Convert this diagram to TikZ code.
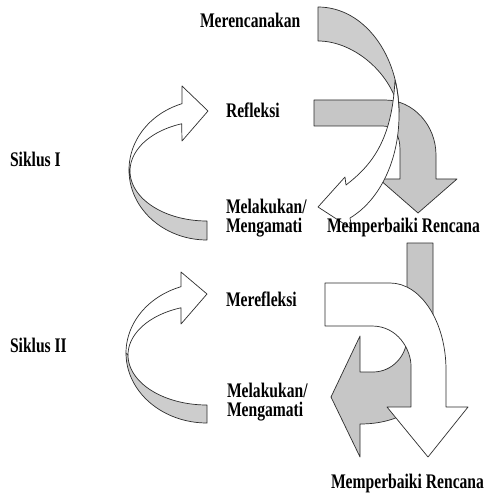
\documentclass[tikz,border=0pt]{standalone}
\usepackage{fontspec}
\usepackage{graphicx}
\setmainfont{Liberation Serif}
\definecolor{gfill}{RGB}{205,205,205}
\definecolor{gfillb}{RGB}{198,198,198}
\definecolor{edge}{RGB}{45,45,45}
\newcommand{\lbl}[1]{\scalebox{1}[1.33]{#1}}
\tikzset{
  shp/.style={draw=edge, line width=0.7pt, line join=round},
  grayshp/.style={shp, fill=gfill},
  grayshpb/.style={shp, fill=gfillb},
  whiteshp/.style={shp, fill=white},
  txt/.style={anchor=base west, inner sep=0pt, outer sep=0pt, text=black,
    font=\bfseries\fontsize{15.6}{18}\selectfont},
}
\begin{document}
\begin{tikzpicture}[x=1pt,y=-1pt]
\useasboundingbox (0,0) rectangle (483,494);
\fill[white] (0,0) rectangle (483,494);

% ---------- Siklus I : left curved arrow ----------
\path[grayshp] (129,170) -- plot[domain=0:90,samples=40,variable=\t] ({207+78*cos(180-\t)},{170+70*sin(180-\t)})
  -- (207,221) -- plot[domain=90:180,samples=40,variable=\t] ({207+77*cos(\t)},{171+50*sin(\t)}) -- cycle;
\path[whiteshp] plot[domain=180:251.3,samples=40,variable=\t] ({207+78*cos(\t)},{170+70*sin(\t)})
  -- (182,86) -- (208,111) -- (182,141)
  -- plot[domain=0:70.8,samples=40,variable=\t] ({207+77*cos(250.8-\t)},{171+50*sin(250.8-\t)}) -- cycle;

% ---------- Siklus II : left curved arrow ----------
\path[grayshp] (126,353) -- plot[domain=0:90,samples=40,variable=\t] ({207+81*cos(180-\t)},{353+70*sin(180-\t)})
  -- (207,405) -- plot[domain=90:180,samples=40,variable=\t] ({207+79*cos(\t)},{355+50*sin(\t)}) -- cycle;
\path[whiteshp] plot[domain=180:251.3,samples=40,variable=\t] ({207+81*cos(\t)},{353+70*sin(\t)})
  -- (181,272) -- (207,294) -- (181,324)
  -- plot[domain=0:70.8,samples=40,variable=\t] ({207+79*cos(250.8-\t)},{355+50*sin(250.8-\t)}) -- cycle;

% ---------- top right: bent gray arrow (Refleksi -> Memperbaiki Rencana) ----------
\path[grayshpb] (314,100) -- (385,100) .. controls (413,100) and (436,125) .. (436,155)
  -- (436,179) -- (457,179) -- (418,213) -- (379,179) -- (400,179) -- (400,150)
  .. controls (400,136) and (395,126) .. (383,126) -- (314,126) -- cycle;

% ---------- top right: curved ribbon arrow (Merencanakan -> Melakukan) ----------
\path[grayshp] (318,7) .. controls (364,7) and (399,55) .. (399,112)
  .. controls (393,75) and (355,41) .. (318,41) -- cycle;
\path[whiteshp] (395,80) .. controls (398,92) and (399,104) .. (399,115)
  .. controls (399,160) and (380,200) .. (350,218) -- (352,229) -- (318,207) -- (345,177) -- (346,185)
  .. controls (372,165) and (392,140) .. (395,80) -- cycle;

% ---------- second cycle: gray arrow from Memperbaiki Rencana ----------
\path[grayshpb] (407,243) -- (433,243) -- (433,370) .. controls (430,405) and (400,424) .. (360,424)
  -- (360,457) -- (331,397) -- (360,336) -- (360,372) -- (373,372)
  .. controls (392,372) and (407,356) .. (407,337) -- cycle;

% ---------- second cycle: white bent arrow ----------
\path[whiteshp] (325,283) -- (390,283) .. controls (421,283) and (446,322) .. (446,370)
  -- (446,407) -- (468,407) -- (428,457) -- (387,407) -- (411,407) -- (411,366)
  .. controls (411,350) and (398,326) .. (372,326) -- (325,326) -- cycle;

% ---------- labels ----------
\node[txt] (plan)   at (200,28)  {\lbl{Merencanakan}};
\node[txt] (ref1)   at (226,118) {\lbl{Refleksi}};
\node[txt] (sik1)   at (10,167)  {\lbl{Siklus I}};
\node[txt] (act1a)  at (226,213) {\lbl{Melakukan/}};
\node[txt] (act1b)  at (226,232) {\lbl{Mengamati}};
\node[txt] (fix1)   at (327,232) {\lbl{Memperbaiki Rencana}};
\node[txt] (ref2)   at (226,306) {\lbl{Merefleksi}};
\node[txt] (sik2)   at (10,352)  {\lbl{Siklus II}};
\node[txt] (act2a)  at (227,397) {\lbl{Melakukan/}};
\node[txt] (act2b)  at (227,416) {\lbl{Mengamati}};
\node[txt] (fix2)   at (331,488) {\lbl{Memperbaiki Rencana}};
\end{tikzpicture}
\end{document}
